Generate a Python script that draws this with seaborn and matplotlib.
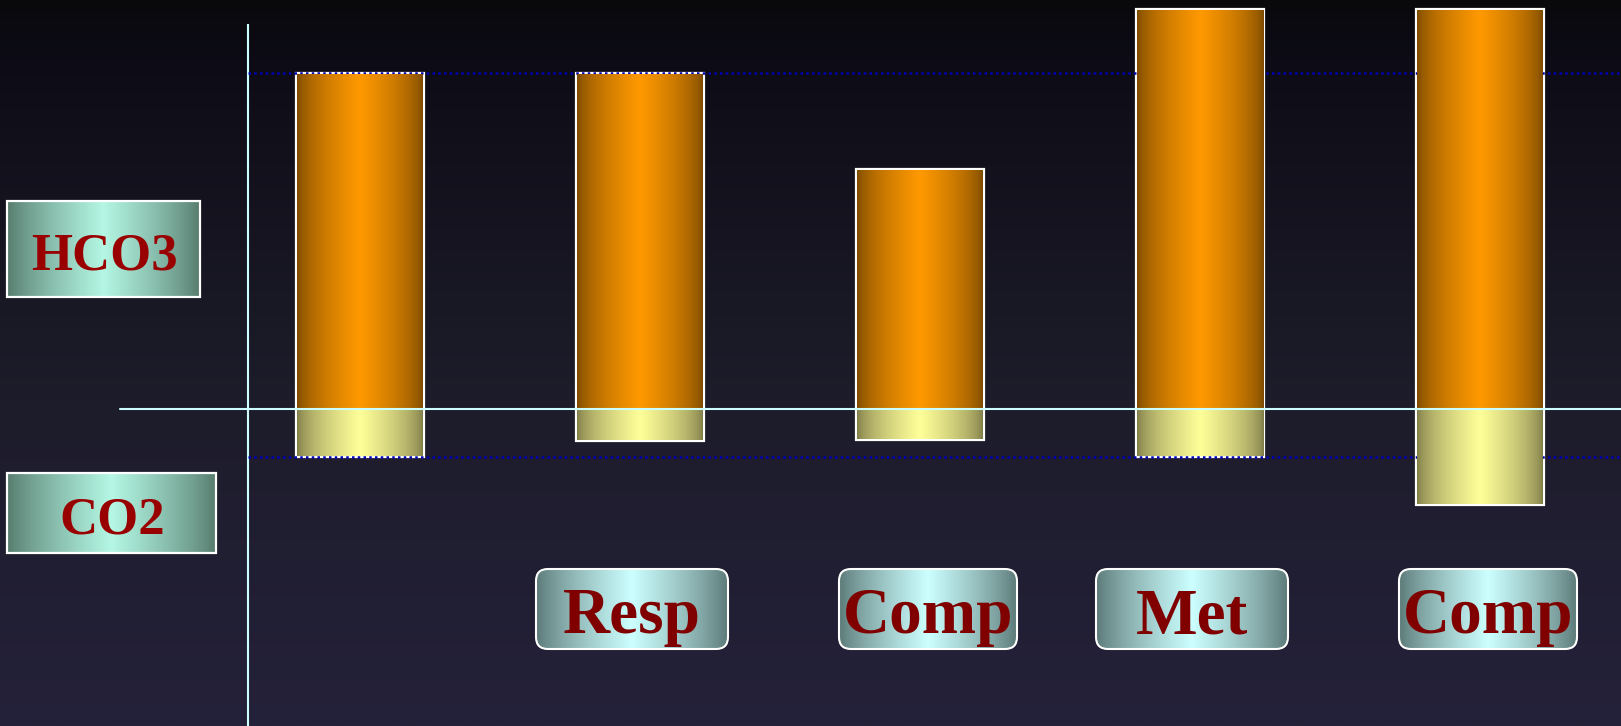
import numpy as np
import matplotlib
matplotlib.use("Agg")
import matplotlib.pyplot as plt
import seaborn as sns
from matplotlib.patches import FancyBboxPatch, Rectangle
from matplotlib.colors import to_rgb

# ---------------- data ----------------
stages = ["Normal", "Resp", "Resp Comp", "Met", "Met Comp"]
hco3 = [7.0, 7.0, 5.0, 8.33, 8.33]
co2 = [1.0, 0.66, 0.65, 1.0, 2.0]
normal_hco3 = 7.0
normal_co2 = 1.0
stage_labels = ["", "Resp", "Comp", "Met", "Comp"]
axis_labels = ["HCO3", "CO2"]

# ---------------- layout / style ----------------
W, H, DPI = 1621, 726, 100
X0_PX, STEP_PX = 360.0, 280.0      # first bar centre, bar spacing (px)
BASE_PX, UNIT_PX = 409.0, 48.0     # zero line, px per unit
AX_LEFT_PX, AX_TOP_PX = 248.0, 25.0
BAR_W = 128.0 / STEP_PX

sns.set_theme(style="white")
plt.rcParams["font.family"] = ["Liberation Serif", "DejaVu Serif"]

fig = plt.figure(figsize=(W / DPI, H / DPI), dpi=DPI)

# background gradient
bg = fig.add_axes([0, 0, 1, 1], zorder=0)
bg.set_axis_off()
stops = [0.0, 0.08, 0.55, 1.0]
cols = [(9, 9, 12), (13, 12, 22), (29, 28, 42), (36, 33, 58)]
yy = np.linspace(0, 1, H)
grad = np.stack([np.interp(yy, stops, [c[k] for c in cols]) for k in range(3)], axis=-1) / 255
bg.imshow(grad[:, None, :], aspect="auto", extent=[0, 1, 0, 1], interpolation="bilinear")
bg.set_xlim(0, 1); bg.set_ylim(0, 1)


def hgrad(edge, center, gamma=0.75, n=256):
    u = np.linspace(0, 1, n)
    t = 1 - np.abs(2 * u - 1)
    f = t ** gamma
    e = np.array(to_rgb(edge)); c = np.array(to_rgb(center))
    return (e[None, :] + (c - e)[None, :] * f[:, None])[None, :, :]


# main axes
ax = fig.add_axes([AX_LEFT_PX / W, 0, 1 - AX_LEFT_PX / W, 1 - AX_TOP_PX / H], zorder=1)
ax.patch.set_visible(False)
sns.barplot(x=stages, y=hco3, ax=ax, color="#ff9900", saturation=1, width=BAR_W,
            edgecolor="white", linewidth=1.6, errorbar=None, zorder=2)
sns.barplot(x=stages, y=[-v for v in co2], ax=ax, color="#ffff99", saturation=1, width=BAR_W,
            edgecolor="white", linewidth=1.6, errorbar=None, zorder=2)

xlim = ((AX_LEFT_PX - X0_PX) / STEP_PX, (W - X0_PX) / STEP_PX)
ylim = (-(H - BASE_PX) / UNIT_PX, (BASE_PX - AX_TOP_PX) / UNIT_PX)

orange_img = hgrad("#784800", "#ff9900", gamma=0.6)
yellow_img = hgrad("#7b7846", "#ffff99", gamma=0.6)
dx, dy = 1.0 / STEP_PX, 1.0 / UNIT_PX
for p in list(ax.patches):
    p.set_clip_on(False)
    x0, w = p.get_x(), p.get_width()
    y0, h = p.get_y(), p.get_height()
    lo, hi = min(y0, y0 + h), max(y0, y0 + h)
    img = orange_img if h > 0 else yellow_img
    ax.imshow(img, extent=[x0 + dx, x0 + w - dx, lo + dy, hi - dy], aspect="auto",
              zorder=4, interpolation="bilinear", clip_on=False)

# reference levels (dotted)
for lvl in (normal_hco3, -normal_co2):
    ax.axhline(lvl, color="#0000b4", lw=1.8, ls=(0, (1, 1.3)), zorder=3)
# zero line
ax.axhline(0, xmin=-(AX_LEFT_PX - 120) / (W - AX_LEFT_PX), xmax=1, color="#ccffff",
           lw=1.5, zorder=5, clip_on=False)

ax.set_xlim(*xlim)
ax.set_ylim(*ylim)
ax.set_xticks([]); ax.set_yticks([])
ax.set_xlabel(""); ax.set_ylabel("")
for s in ("top", "right", "bottom"):
    ax.spines[s].set_visible(False)
ax.spines["left"].set_color("#ccffff")
ax.spines["left"].set_linewidth(1.5)

# overlay for label boxes (pixel coordinates)
ov = fig.add_axes([0, 0, 1, 1], zorder=3)
ov.patch.set_visible(False)
ov.set_axis_off()


def grad_box(x0, y0, x1, y1, edge, center, rounded=False):
    if rounded:
        patch = FancyBboxPatch((x0, y0), x1 - x0, y1 - y0,
                               boxstyle="round,pad=0,rounding_size=12",
                               facecolor="none", edgecolor="white", lw=1.5, zorder=3)
    else:
        patch = Rectangle((x0, y0), x1 - x0, y1 - y0, facecolor="none",
                          edgecolor="white", lw=1.6, zorder=3)
    ov.add_patch(patch)
    im = ov.imshow(hgrad(edge, center, gamma=0.8), extent=[x0, x1, y1, y0], aspect="auto",
                   zorder=2, interpolation="bilinear")
    im.set_clip_path(patch)


# left labels
grad_box(7, 201, 200, 297, "#557a6c", "#b4f7e4")
ov.text(104, 270, axis_labels[0], ha="center", va="baseline", fontsize=38,
        fontweight="bold", color="#990000", zorder=4)
grad_box(7, 473, 216, 553, "#557a6c", "#b4f7e4")
ov.text(112, 533, axis_labels[1], ha="center", va="baseline", fontsize=38,
        fontweight="bold", color="#990000", zorder=4)

# bottom stage labels
fig.canvas.draw()
box_offsets = [0, -8, 8, -8, 8]
box_widths = [0, 192, 178, 192, 178]
for i, lab in enumerate(stage_labels):
    if not lab:
        continue
    cx = ax.transData.transform((i, 0))[0] + box_offsets[i]
    hw = box_widths[i] / 2
    grad_box(cx - hw, 569, cx + hw, 649, "#5a7876", "#ccffff", rounded=True)
    ov.text(cx, 633, lab, ha="center", va="baseline", fontsize=47,
            fontweight="bold", color="#800000", zorder=4)

ov.set_xlim(0, W)
ov.set_ylim(H, 0)

fig.savefig("out.png", dpi=DPI)
